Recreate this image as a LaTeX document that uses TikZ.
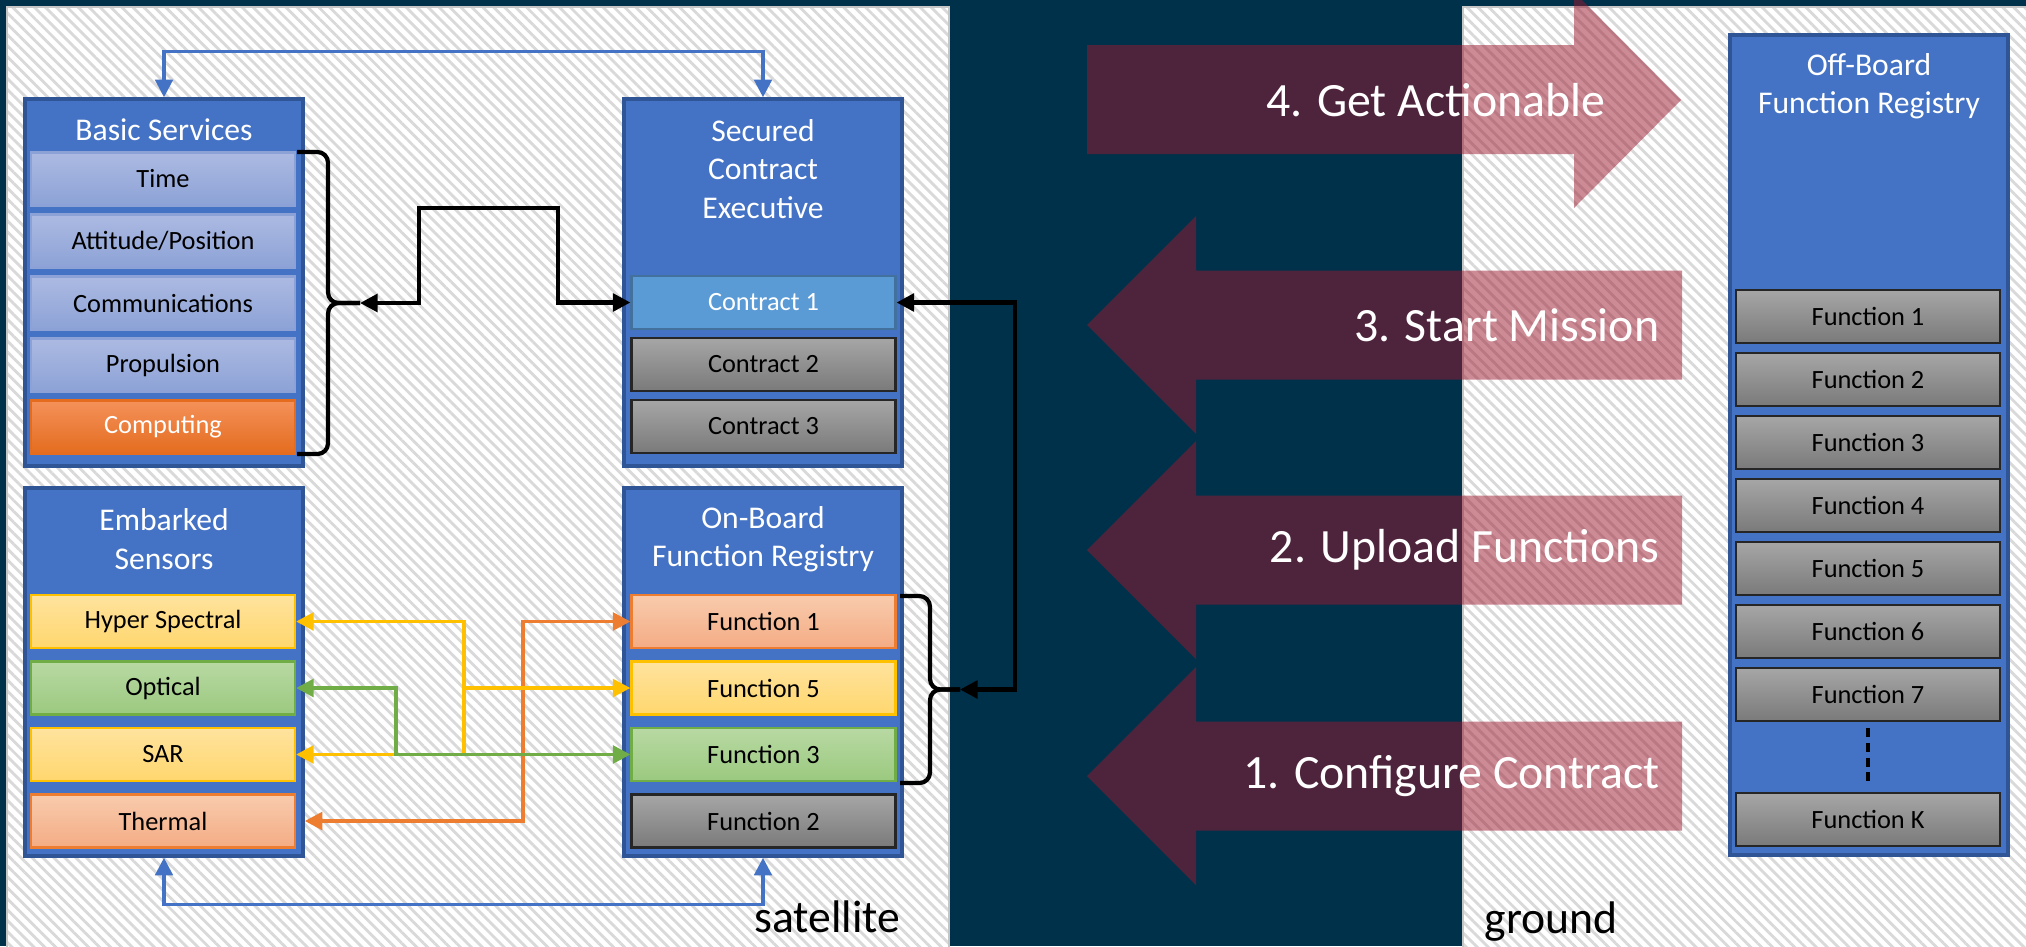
\documentclass[tikz,border=0pt]{standalone}
\usepackage{fontspec}
\setmainfont{Carlito}
\usepackage{tikz}
\usetikzlibrary{arrows.meta,patterns.meta}
\usepackage{xcolor}
\definecolor{nightteal}{HTML}{00314A}
\definecolor{hatchgray}{HTML}{D9D9D9}
\definecolor{groupblue}{HTML}{4472C4}
\definecolor{groupedge}{HTML}{2F5597}
\definecolor{svctop}{HTML}{ACBAE2}
\definecolor{svcbot}{HTML}{8CA2D6}
\definecolor{cputop}{HTML}{F4915A}
\definecolor{cpubot}{HTML}{E46C1E}
\definecolor{cpsky}{HTML}{5B9BD5}
\definecolor{cpskyedge}{HTML}{41719C}
\definecolor{slatetop}{HTML}{A6A6A6}
\definecolor{slatebot}{HTML}{7A7A7A}
\definecolor{salmtop}{HTML}{F8CBAD}
\definecolor{salmbot}{HTML}{F4AC84}
\definecolor{salmedge}{HTML}{ED7D31}
\definecolor{goldtop}{HTML}{FFE39E}
\definecolor{goldbot}{HTML}{FFD76E}
\definecolor{goldedge}{HTML}{FFC000}
\definecolor{sagetop}{HTML}{B8D9A3}
\definecolor{sagebot}{HTML}{9BC97F}
\definecolor{sageedge}{HTML}{70AD47}
\definecolor{stepred}{HTML}{9C182F}

\begin{document}
\begin{tikzpicture}[x=1cm,y=-1cm,>={Triangle[length=5pt,width=5pt]},
  panel/.style={draw=gray!45,line width=0.5pt,preaction={fill=white},
    pattern={Lines[angle=-45,distance=2.2pt,line width=0.8pt]},pattern color=hatchgray},
  group/.style={draw=groupedge,line width=1pt,fill=groupblue,minimum width=2.78cm,inner sep=0pt},
  grouptitle/.style={text=white,align=center,font=\fontsize{9}{10.9}\selectfont},
  item/.style={minimum width=2.64cm,minimum height=0.53cm,inner sep=0pt,line width=0.6pt,
    font=\fontsize{7.5}{9}\selectfont},
  svc/.style={item,draw=svcbot,top color=svctop,bottom color=svcbot},
  cpu/.style={item,draw=cpubot,top color=cputop,bottom color=cpubot,text=white},
  slate/.style={item,draw=black!85,top color=slatetop,bottom color=slatebot},
  salmon/.style={item,draw=salmedge,top color=salmtop,bottom color=salmbot},
  gold/.style={item,draw=goldedge,top color=goldtop,bottom color=goldbot},
  sage/.style={item,draw=sageedge,top color=sagetop,bottom color=sagebot},
  bracket/.style={line width=1.2pt,rounded corners=3pt},
  blackline/.style={line width=1.2pt,<->},
  blueline/.style={draw=groupblue,line width=0.9pt,<->},
  stepbody/.style={fill=stepred,opacity=0.5},
  steplabel/.style={text=white,anchor=east,inner xsep=0pt,font=\fontsize{13.6}{16}\selectfont},
  sidelabel/.style={inner sep=0pt,font=\fontsize{13}{15}\selectfont}]
% Satellite half on the left, ground half on the right, four steps between.
\useasboundingbox (0,0) rectangle (20.26,9.46);
\fill[nightteal] (0,0) rectangle (20.26,9.46);
\draw[panel] (0.07,0.07) rectangle (9.49,9.55);
\draw[panel] (14.63,0.07) rectangle (20.35,9.55);
\fill[stepbody] (10.87,0.45) -- (15.74,0.45) -- (15.74,-0.08) -- (16.81,1.00) -- (15.74,2.08) -- (15.74,1.54) -- (10.87,1.54) -- cycle;
\fill[stepbody] (10.87,3.25) -- (11.96,2.16) -- (11.96,2.705) -- (16.82,2.705) -- (16.82,3.795) -- (11.96,3.795) -- (11.96,4.34) -- cycle;
\fill[stepbody] (10.87,5.50) -- (11.96,4.41) -- (11.96,4.955) -- (16.82,4.955) -- (16.82,6.045) -- (11.96,6.045) -- (11.96,6.59) -- cycle;
\fill[stepbody] (10.87,7.76) -- (11.96,6.67) -- (11.96,7.215) -- (16.82,7.215) -- (16.82,8.305) -- (11.96,8.305) -- (11.96,8.85) -- cycle;
\node[steplabel] (step4) at (16.06,1.00) {4. Get Actionable};
\node[steplabel] (step3) at (16.60,3.25) {3. Start Mission};
\node[steplabel] (step2) at (16.60,5.50) {2. Upload Functions};
\node[steplabel] (step1) at (16.60,7.76) {1. Configure Contract};
\node[sidelabel,anchor=base east] (sattext) at (9.01,9.32) {satellite};
\node[sidelabel,anchor=base west] (gndtext) at (14.84,9.33) {ground};
% basic services
\node[group,minimum height=3.67cm] (basic) at (1.64,2.825) {};
\node[grouptitle] (basictitle) at (1.64,1.30) {Basic Services};
\node[svc] (time) at (1.63,1.79) {Time};
\node[svc] (attitude) at (1.63,2.41) {Attitude/Position};
\node[svc] (comm) at (1.63,3.03) {Communications};
\node[svc] (prop) at (1.63,3.65) {Propulsion};
\node[cpu] (compute) at (1.63,4.27) {Computing};
% contract executive
\node[group,minimum height=3.67cm] (sce) at (7.63,2.825) {};
\node[grouptitle] (scetitle) at (7.63,1.69) {Secured\\Contract\\Executive};
\node[item,fill=cpsky,draw=cpskyedge,text=white] (c1) at (7.635,3.025) {Contract 1};
\node[slate] (c2) at (7.635,3.645) {Contract 2};
\node[slate] (c3) at (7.635,4.265) {Contract 3};
% sensors
\node[group,minimum height=3.68cm] (embarked) at (1.64,6.72) {};
\node[grouptitle] (embtitle) at (1.64,5.39) {Embarked\\Sensors};
\node[gold] (hyper) at (1.63,6.215) {Hyper Spectral};
\node[sage] (optical) at (1.63,6.88) {Optical};
\node[gold] (sar) at (1.63,7.545) {SAR};
\node[salmon] (thermal) at (1.63,8.21) {Thermal};
% on-board registry
\node[group,minimum height=3.68cm] (onboard) at (7.63,6.72) {};
\node[grouptitle] (ontitle) at (7.63,5.39) {On-Board\\Function Registry};
\node[salmon] (onf1) at (7.635,6.215) {Function 1};
\node[gold] (onf5) at (7.635,6.88) {Function 5};
\node[sage] (onf3) at (7.635,7.545) {Function 3};
\node[slate] (onf2) at (7.635,8.21) {Function 2};
% off-board registry
\node[group,minimum height=8.20cm] (offboard) at (18.69,4.45) {};
\node[grouptitle] (offtitle) at (18.69,0.86) {Off-Board\\Function Registry};
\node[slate] (off1) at (18.68,3.165) {Function 1};
\node[slate] (off2) at (18.68,3.795) {Function 2};
\node[slate] (off3) at (18.68,4.425) {Function 3};
\node[slate] (off4) at (18.68,5.055) {Function 4};
\node[slate] (off5) at (18.68,5.685) {Function 5};
\node[slate] (off6) at (18.68,6.315) {Function 6};
\node[slate] (off7) at (18.68,6.945) {Function 7};
\node[slate] (offk) at (18.68,8.195) {Function K};
\draw[line width=1pt,dash pattern=on 2.6pt off 1.6pt,shorten <=0.06cm,shorten >=0.08cm] (off7.south) -- (offk.north);
% braces and links
\coordinate (svctip) at (3.60,3.03);
\coordinate (regtip) at (9.60,6.895);
\draw[bracket] (2.97,1.52) -- (3.28,1.52) -- (3.28,3.03) -- (svctip);
\draw[bracket] (2.97,4.54) -- (3.28,4.54) -- (3.28,3.03) -- (svctip);
\draw[bracket] (9.00,5.96) -- (9.30,5.96) -- (9.30,6.895) -- (regtip);
\draw[bracket] (9.00,7.83) -- (9.30,7.83) -- (9.30,6.895) -- (regtip);
\draw[blueline] (basic.north) -- ++(0,-0.46) -| (sce.north);
\draw[blueline] (embarked.south) -- ++(0,0.47) -| (onboard.south);
\draw[blackline] (svctip) -- (4.19,3.03) -- (4.19,2.08) -- (5.58,2.08) |- (c1.west);
\draw[blackline] (c1.east) -| (10.15,5.0) |- (regtip);
\draw[salmedge,line width=1.1pt,<->] (thermal.east -| embarked.east) -- ++(2.18,0) |- (onf1.west);
\draw[goldedge,line width=1.1pt,<->] (hyper.east) -- ++(1.68,0) |- (sar.east);
\draw[goldedge,line width=1.1pt,->] (hyper.east) ++(1.68,0) |- (onf5.west);
\draw[sageedge,line width=1.1pt,<->] (optical.east) -- ++(1.0,0) |- (onf3.west);
\end{tikzpicture}
\end{document}
